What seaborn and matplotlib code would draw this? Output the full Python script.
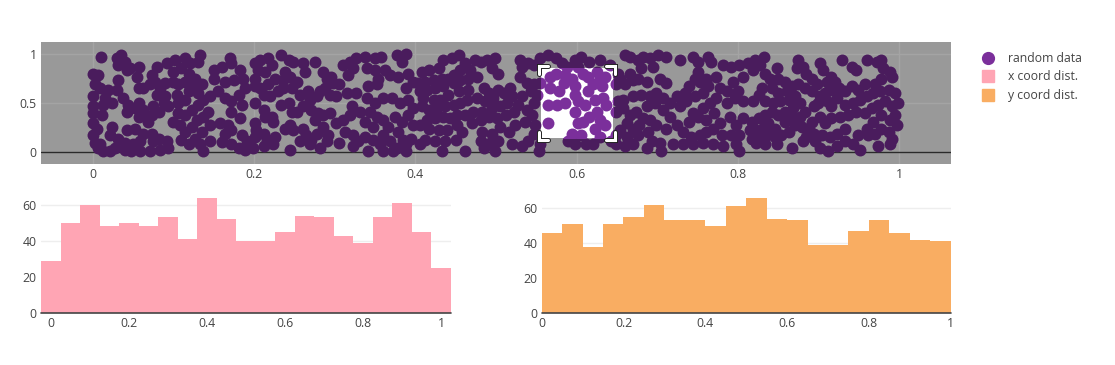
import numpy as np
import pandas as pd
import matplotlib
matplotlib.use("Agg")
import matplotlib.pyplot as plt
import matplotlib.patheffects as pe
from matplotlib.lines import Line2D
from matplotlib.patches import Rectangle
import seaborn as sns

sns.set_theme(style="white")
plt.rcParams["font.family"] = ["Open Sans", "DejaVu Sans"]

# -----------------------------
# Data
# -----------------------------
# x histogram: 21 bins of width 0.05 centred on 0, 0.05, ... 1
x_bin_centers = [0, 0.05, 0.1, 0.15, 0.2, 0.25, 0.3, 0.35, 0.4, 0.45, 0.5,
                 0.55, 0.6, 0.65, 0.7, 0.75, 0.8, 0.85, 0.9, 0.95, 1.0]
x_counts = [29, 50, 60, 48, 50, 48, 53, 41, 64, 52, 40,
            40, 45, 54, 53, 43, 39, 53, 61, 45, 25]

# y histogram: 20 bins of width 0.05 from 0 to 1
y_bin_centers = [0.025, 0.075, 0.125, 0.175, 0.225, 0.275, 0.325, 0.375, 0.425, 0.475,
                 0.525, 0.575, 0.625, 0.675, 0.725, 0.775, 0.825, 0.875, 0.925, 0.975]
y_counts = [46, 51, 38, 51, 55, 62, 53, 53, 50, 61,
            66, 54, 53, 39, 39, 47, 53, 46, 42, 41]

# scatter points, estimated strip by strip (x 0-0.2, 0.2-0.4, ...)
pts_a = [(.010, .97), (.030, .96), (.035, .99), (.040, .92), (.032, .89), (.043, .84), (.057, .87), (.055, .77),
         (.046, .86), (.080, .87), (.073, .79), (.092, .91), (.102, .94), (.100, .82), (.114, .96), (.121, .91),
         (.133, .99), (.131, .92), (.110, .86), (.119, .80), (.127, .75), (.135, .69), (.150, .84), (.160, .87),
         (.170, .96), (.172, .91), (.183, .84), (.150, .75), (.164, .72), (.175, .74), (.187, .75), (.189, .65),
         (.000, .80), (.007, .79), (.003, .69), (.009, .65), (.001, .57), (.000, .47), (.001, .40), (.000, .30),
         (.005, .24), (.000, .18), (.003, .09), (.007, .04), (.013, .01), (.009, .08), (.011, .38), (.013, .48),
         (.019, .63), (.024, .50), (.015, .55), (.032, .74), (.030, .63), (.038, .55), (.044, .48), (.042, .41),
         (.052, .45), (.057, .50), (.063, .43), (.057, .36), (.067, .36), (.075, .47), (.080, .58), (.084, .65),
         (.090, .70), (.090, .57), (.088, .50), (.094, .47), (.082, .41), (.073, .38), (.069, .31), (.052, .24),
         (.042, .23), (.024, .26), (.022, .18), (.032, .14), (.040, .09), (.028, .04), (.040, .02), (.050, .08),
         (.059, .11), (.063, .19), (.073, .19), (.075, .11), (.082, .14), (.092, .11), (.094, .04), (.084, .02),
         (.071, .01), (.059, .01), (.048, .01), (.022, .01), (.104, .58), (.106, .50), (.114, .53), (.119, .62),
         (.125, .67), (.131, .60), (.137, .53), (.131, .48), (.123, .43), (.114, .38), (.106, .40), (.100, .31),
         (.108, .28), (.114, .21), (.110, .13), (.119, .08), (.127, .14), (.123, .26), (.129, .33), (.137, .36),
         (.143, .41), (.145, .28), (.135, .21), (.133, .08), (.145, .11), (.137, .01), (.145, .57), (.156, .62),
         (.164, .55), (.172, .52), (.181, .58), (.185, .48), (.172, .41), (.158, .30), (.168, .28), (.164, .19),
         (.172, .23), (.183, .35), (.185, .18), (.191, .11), (.172, .08), (.160, .10), (.181, .04), (.189, .02),
         (.106, .69), (.100, .72), (.071, .69), (.063, .65), (.057, .65), (.077, .72), (.114, .72), (.123, .72)]

pts_b = [(.201, .91), (.207, .94), (.218, .96), (.222, .89), (.234, .99), (.243, .94), (.249, .92), (.261, .91),
         (.276, .92), (.263, .82), (.238, .82), (.245, .77), (.253, .72), (.236, .74), (.226, .75), (.214, .82),
         (.205, .84), (.201, .75), (.201, .67), (.207, .65), (.218, .69), (.212, .58), (.220, .57), (.230, .62),
         (.236, .65), (.247, .65), (.257, .58), (.267, .62), (.269, .53), (.278, .57), (.286, .82), (.290, .75),
         (.296, .77), (.298, .70), (.305, .69), (.288, .65), (.282, .62), (.294, .58), (.302, .57), (.315, .60),
         (.311, .89), (.319, .92), (.323, .86), (.317, .79), (.327, .96), (.338, .97), (.350, .96), (.358, .97),
         (.340, .86), (.350, .84), (.362, .84), (.369, .79), (.354, .75), (.342, .67), (.352, .69), (.377, .99),
         (.383, .92), (.389, 1.0), (.379, .77), (.391, .80), (.389, .65), (.397, .72), (.327, .60), (.340, .55),
         (.350, .50), (.360, .55), (.371, .55), (.381, .50), (.391, .53), (.397, .45), (.201, .50), (.212, .43),
         (.214, .36), (.222, .36), (.224, .31), (.234, .48), (.243, .50), (.247, .41), (.253, .41), (.261, .47),
         (.271, .43), (.280, .40), (.286, .38), (.294, .40), (.276, .33), (.302, .30), (.311, .33), (.319, .38),
         (.321, .47), (.331, .41), (.338, .31), (.344, .41), (.352, .36), (.348, .26), (.360, .33), (.366, .26),
         (.375, .36), (.383, .31), (.391, .38), (.397, .28), (.201, .30), (.203, .23), (.201, .16), (.212, .19),
         (.216, .13), (.226, .16), (.238, .24), (.245, .28), (.249, .23), (.261, .24), (.265, .18), (.271, .13),
         (.278, .19), (.286, .26), (.292, .18), (.290, .11), (.282, .04), (.269, .08), (.257, .11), (.245, .02),
         (.224, .08), (.212, .06), (.199, .04), (.305, .09), (.313, .21), (.323, .18), (.329, .11), (.323, .06),
         (.342, .01), (.338, .16), (.348, .13), (.356, .08), (.360, .18), (.369, .11), (.379, .21), (.385, .13),
         (.377, .04), (.389, .08), (.395, .14), (.360, .01), (.373, .01), (.389, .01)]

pts_c = [(.408, .82), (.417, .84), (.429, .86), (.435, .94), (.445, .96), (.454, .99), (.462, .91), (.474, .94),
         (.481, .92), (.489, .94), (.499, .96), (.495, .86), (.503, .80), (.476, .77), (.468, .84), (.456, .84),
         (.448, .79), (.441, .75), (.433, .75), (.423, .74), (.412, .72), (.404, .70), (.406, .62), (.414, .63),
         (.425, .65), (.435, .67), (.448, .70), (.456, .74), (.466, .75), (.466, .63), (.454, .62), (.441, .58),
         (.431, .53), (.423, .53), (.410, .55), (.408, .47), (.417, .43), (.427, .45), (.437, .47), (.448, .48),
         (.456, .50), (.464, .53), (.476, .55), (.485, .65), (.491, .60), (.487, .52), (.497, .55), (.503, .63),
         (.510, .60), (.518, .65), (.520, .57), (.514, .50), (.505, .47), (.495, .45), (.483, .41), (.472, .41),
         (.462, .38), (.452, .38), (.443, .35), (.435, .36), (.425, .35), (.414, .33), (.406, .28), (.417, .24),
         (.429, .23), (.439, .23), (.452, .28), (.458, .21), (.470, .30), (.481, .33), (.491, .36), (.501, .35),
         (.512, .38), (.522, .41), (.528, .48), (.532, .57), (.524, .28), (.516, .21), (.505, .26), (.495, .19),
         (.483, .21), (.481, .11), (.493, .09), (.503, .11), (.450, .13), (.437, .11), (.425, .11), (.412, .13),
         (.406, .08), (.433, .01), (.462, .01), (.485, .04), (.499, .01), (.530, .94), (.532, .87), (.540, .91),
         (.547, .89), (.555, .96), (.565, .99), (.574, .96), (.582, .91), (.588, .87), (.598, .94), (.602, .87),
         (.530, .77), (.538, .70), (.547, .69), (.555, .70), (.543, .62), (.551, .58), (.547, .50), (.538, .43),
         (.545, .38), (.536, .31), (.549, .28), (.547, .19), (.540, .11), (.555, .08), (.553, .01), (.532, .06),
         (.520, .08), (.590, .11), (.598, .08), (.605, .18), (.567, .77), (.574, .80), (.586, .79), (.594, .75),
         (.584, .70), (.578, .62), (.567, .65), (.598, .67), (.598, .58), (.565, .48), (.576, .48), (.586, .50),
         (.602, .52), (.565, .30), (.594, .19), (.602, .30), (.598, .41)]

pts_d = [(.608, .80), (.614, .77), (.625, .82), (.629, .75), (.635, .77), (.621, .69), (.631, .67), (.614, .62),
         (.610, .48), (.623, .53), (.633, .55), (.637, .48), (.625, .41), (.616, .36), (.608, .31), (.629, .33),
         (.635, .28), (.623, .24), (.606, .97), (.616, .92), (.629, .94), (.641, .89), (.652, .80), (.660, .99),
         (.666, .97), (.676, .94), (.683, .97), (.691, .96), (.701, .99), (.711, .97), (.695, .87), (.680, .86),
         (.666, .80), (.654, .75), (.649, .69), (.660, .69), (.670, .74), (.676, .75), (.687, .72), (.703, .75),
         (.711, .70), (.728, .94), (.744, .97), (.751, .92), (.763, .97), (.767, .92), (.782, .89), (.792, .87),
         (.802, .89), (.806, .77), (.751, .82), (.747, .75), (.761, .75), (.773, .77), (.794, .72), (.800, .62),
         (.786, .62), (.778, .65), (.763, .67), (.753, .72), (.740, .67), (.734, .60), (.724, .57), (.716, .50),
         (.707, .55), (.699, .60), (.691, .57), (.680, .58), (.670, .57), (.658, .53), (.652, .52), (.649, .41),
         (.658, .45), (.666, .38), (.674, .41), (.687, .47), (.697, .50), (.707, .43), (.716, .36), (.724, .28),
         (.711, .24), (.699, .28), (.691, .33), (.683, .35), (.678, .28), (.670, .24), (.662, .30), (.654, .23),
         (.649, .18), (.662, .16), (.676, .18), (.689, .21), (.693, .11), (.703, .09), (.687, .04), (.670, .08),
         (.660, .06), (.649, .08), (.643, .11), (.629, .16), (.621, .08), (.612, .08), (.728, .47), (.736, .52),
         (.747, .57), (.757, .60), (.765, .50), (.773, .55), (.786, .50), (.796, .55), (.806, .52), (.757, .45),
         (.744, .40), (.740, .31), (.751, .36), (.761, .33), (.771, .40), (.778, .30), (.790, .36), (.798, .28),
         (.806, .35), (.732, .21), (.742, .16), (.753, .18), (.761, .21), (.769, .24), (.780, .18), (.792, .18),
         (.802, .18), (.744, .08), (.757, .09), (.769, .08), (.782, .06), (.798, .08), (.732, .08), (.720, .08),
         (.705, .01), (.802, .01)]

pts_e = [(.813, .91), (.821, .94), (.832, .97), (.828, .89), (.819, .84), (.834, .80), (.848, .86), (.840, .75),
         (.850, .75), (.859, .72), (.875, .94), (.873, .86), (.881, .87), (.885, .80), (.892, .75), (.902, .91),
         (.906, .84), (.898, .69), (.910, .72), (.916, .77), (.921, .72), (.929, .94), (.941, .87), (.947, .84),
         (.960, .94), (.972, .92), (.978, .94), (.980, .86), (.989, .82), (.991, .77), (.978, .75), (.970, .69),
         (.958, .69), (.949, .63), (.941, .67), (.933, .62), (.925, .65), (.914, .63), (.908, .60), (.902, .57),
         (.892, .62), (.883, .65), (.875, .69), (.867, .67), (.861, .62), (.850, .60), (.842, .65), (.830, .65),
         (.826, .58), (.819, .52), (.834, .52), (.844, .50), (.852, .52), (.863, .53), (.871, .57), (.877, .50),
         (.869, .45), (.859, .41), (.850, .38), (.842, .41), (.834, .38), (.826, .35), (.817, .31), (.815, .23),
         (.823, .23), (.832, .26), (.838, .30), (.846, .24), (.859, .31), (.867, .36), (.877, .36), (.883, .41),
         (.894, .47), (.900, .50), (.910, .52), (.916, .47), (.923, .55), (.933, .48), (.943, .50), (.952, .53),
         (.960, .57), (.968, .60), (.976, .62), (.987, .63), (.995, .60), (.999, .50), (.991, .47), (.983, .52),
         (.974, .48), (.966, .45), (.958, .40), (.947, .41), (.937, .38), (.927, .36), (.916, .35), (.908, .30),
         (.902, .36), (.892, .31), (.888, .24), (.879, .26), (.871, .28), (.863, .21), (.854, .18), (.846, .16),
         (.836, .18), (.826, .18), (.817, .14), (.823, .09), (.834, .08), (.848, .08), (.867, .04), (.881, .11),
         (.896, .11), (.902, .04), (.912, .01), (.923, .06), (.933, .11), (.943, .08), (.952, .02), (.949, .18),
         (.960, .24), (.968, .31), (.978, .38), (.989, .33), (.995, .38), (.997, .28), (.987, .21), (.978, .24),
         (.970, .19), (.962, .18), (.974, .06), (.989, .08), (.991, .14), (.933, .24), (.923, .19), (.914, .16),
         (.904, .18), (.894, .19), (.885, .16)]

# zoom box that was being dragged when the picture was taken
sel_x = (0.556, 0.645)
sel_y = (0.145, 0.858)

purple = "#7b2f9b"
purple_dim = "#4a1c5d"
pink = "#ffa5b4"
orange = "#f9ad62"
txt = "#444444"

pts = pd.DataFrame(pts_a + pts_b + pts_c + pts_d + pts_e, columns=["x", "y"])
xdist = pd.DataFrame({"pos": x_bin_centers, "count": x_counts})
ydist = pd.DataFrame({"pos": y_bin_centers, "count": y_counts})

# -----------------------------
# Layout
# -----------------------------
fig = plt.figure(figsize=(11.15, 3.65), dpi=100)
fig.patch.set_facecolor("white")

ax = fig.add_axes([0.0368, 0.5507, 0.8159, 0.3334])
ax1 = fig.add_axes([0.0368, 0.1416, 0.3674, 0.333])
ax2 = fig.add_axes([0.4858, 0.1416, 0.3668, 0.333])

# -----------------------------
# 1) Scatter with zoom box
# -----------------------------
ax.set_facecolor("#999999")
ax.grid(True, color="#a4a4a4", lw=1)
ax.set_axisbelow(True)
ax.axhline(0, color="#2a2a2a", lw=1, zorder=1.5)
sns.scatterplot(data=pts, x="x", y="y", color=purple_dim, s=74, linewidth=0, ax=ax, zorder=3)

box = Rectangle((sel_x[0], sel_y[0]), sel_x[1] - sel_x[0], sel_y[1] - sel_y[0],
                facecolor="white", edgecolor="none", zorder=4)
ax.add_patch(box)
sns.scatterplot(data=pts, x="x", y="y", color=purple, s=74, linewidth=0, ax=ax, zorder=5)
ax.collections[-1].set_clip_path(box)

# corner brackets
dx, dy = 0.0105, 0.085
ox, oy = 0.0025, 0.02
x0, x1 = sel_x[0] - ox, sel_x[1] + ox
y0, y1 = sel_y[0] - oy, sel_y[1] + oy
corners = [
    ([x0, x0, x0 + dx], [y1 - dy, y1, y1]),
    ([x1 - dx, x1, x1], [y1, y1, y1 - dy]),
    ([x0, x0, x0 + dx], [y0 + dy, y0, y0]),
    ([x1 - dx, x1, x1], [y0, y0, y0 + dy]),
]
for cx, cy in corners:
    ax.plot(cx, cy, color="white", lw=2.2, zorder=6, solid_joinstyle="miter",
            path_effects=[pe.Stroke(linewidth=3.6, foreground="#222222"), pe.Normal()])

ax.set_xlim(-0.064, 1.064)
ax.set_ylim(-0.119, 1.119)
ax.set_xticks([0, 0.2, 0.4, 0.6, 0.8, 1])
ax.set_xticklabels(["0", "0.2", "0.4", "0.6", "0.8", "1"])
ax.set_yticks([0, 0.5, 1])
ax.set_yticklabels(["0", "0.5", "1"])
ax.set_xlabel("")
ax.set_ylabel("")

# -----------------------------
# 2) Histograms
# -----------------------------
x_edges = list(np.linspace(-0.025, 1.025, 22))
y_edges = list(np.linspace(0, 1, 21))

sns.histplot(data=xdist, x="pos", weights="count", bins=x_edges, color=pink,
             alpha=1, linewidth=0, ax=ax1)
sns.histplot(data=ydist, x="pos", weights="count", bins=y_edges, color=orange,
             alpha=1, linewidth=0, ax=ax2)

ax1.set_xlim(-0.025, 1.025)
ax1.set_ylim(0, 67.2)
ax2.set_xlim(0, 1)
ax2.set_ylim(0, 69.3)

for a in (ax1, ax2):
    a.set_facecolor("white")
    a.yaxis.grid(True, color="#eeeeee", lw=1)
    a.set_axisbelow(True)
    a.axhline(0, color=txt, lw=1.2, zorder=5, clip_on=False)
    a.set_yticks([0, 20, 40, 60])
    a.set_xticks([0, 0.2, 0.4, 0.6, 0.8, 1])
    a.set_xticklabels(["0", "0.2", "0.4", "0.6", "0.8", "1"])
    a.set_ylabel("")
    a.set_xlabel("")

for a in (ax, ax1, ax2):
    for s in a.spines.values():
        s.set_visible(False)
    a.tick_params(axis="both", length=0, labelsize=8.8, labelcolor=txt)
    a.tick_params(axis="x", pad=3)
    a.tick_params(axis="y", pad=3)

# -----------------------------
# Legend
# -----------------------------
handles = [
    Line2D([], [], marker="o", linestyle="", color=purple, markersize=8.5),
    Line2D([], [], marker="s", linestyle="", color=pink, markersize=8.5),
    Line2D([], [], marker="s", linestyle="", color=orange, markersize=8.5),
]
leg = fig.legend(handles, ["random data", "x coord dist.", "y coord dist."],
                 loc="upper left", bbox_to_anchor=(980 / 1115, 1 - 52 / 365),
                 frameon=False, fontsize=8.8, handlelength=1.3, handletextpad=1.0,
                 labelspacing=0.45, borderaxespad=0, borderpad=0)
for t in leg.get_texts():
    t.set_color(txt)

fig.savefig("out.png", dpi=100)
